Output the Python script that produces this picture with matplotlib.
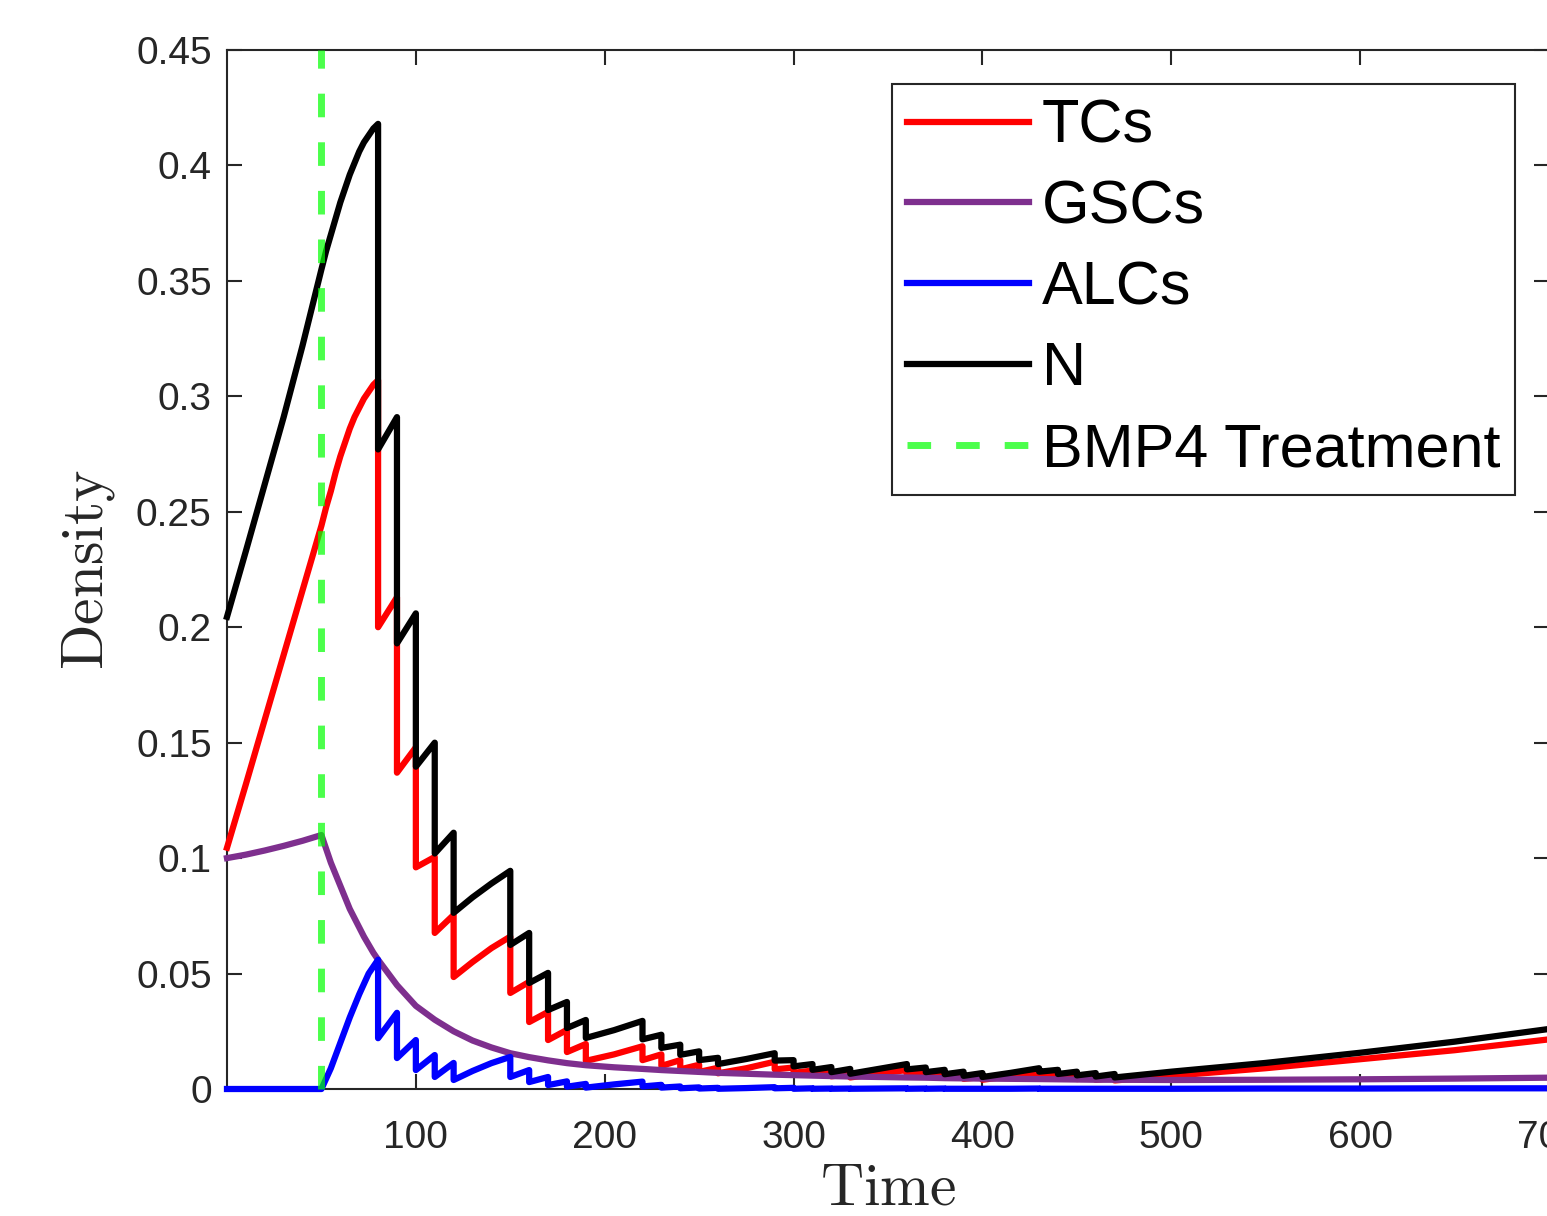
import matplotlib
matplotlib.use("Agg")
import matplotlib.pyplot as plt

plt.rcParams['font.family'] = ['Liberation Sans', 'DejaVu Sans']
plt.rcParams['mathtext.fontset'] = 'cm'

# time points, each dose time appears twice (value before / after the dose)
time = [0, 10, 20, 30, 40, 50, 52.5, 55, 57.5, 60, 62.5, 65, 67.5, 70, 72.5, 75, 77.5, 80,
        80, 90, 90, 100, 100, 110, 110, 120, 120,
        130, 140, 150, 150, 160, 160, 170, 170, 180, 180, 190, 190,
        205, 220, 220, 230, 230, 240, 240, 250, 250, 260, 260,
        275, 290, 290, 300, 300, 310, 310, 320, 320, 330, 330,
        345, 360, 360, 370, 370, 380, 380, 390, 390, 400, 400,
        415, 430, 430, 440, 440, 450, 450, 460, 460, 470, 470,
        500, 550, 600, 650, 700]

tcs = [0.1045, 0.132, 0.160, 0.188, 0.216, 0.244, 0.252, 0.259, 0.267, 0.274, 0.280, 0.286,
       0.291, 0.295, 0.299, 0.302, 0.305, 0.307,
       0.200, 0.213, 0.137, 0.148, 0.096, 0.1005, 0.0676, 0.0754, 0.0485,
       0.055, 0.061, 0.066, 0.0416, 0.0464, 0.029, 0.0334, 0.0212, 0.0256, 0.016, 0.0195, 0.0122,
       0.0150, 0.0185, 0.0125, 0.0150, 0.0100, 0.0125, 0.0085, 0.0105, 0.0074, 0.0092, 0.0068,
       0.0090, 0.0118, 0.0085, 0.0093, 0.0070, 0.0080, 0.0061, 0.0071, 0.0055, 0.0065, 0.0050,
       0.0067, 0.0082, 0.0062, 0.0070, 0.0054, 0.0062, 0.0048, 0.0056, 0.0044, 0.0052, 0.0040,
       0.0056, 0.0070, 0.0052, 0.0062, 0.0047, 0.0056, 0.0043, 0.0052, 0.0040, 0.0049, 0.0037,
       0.0057, 0.0090, 0.0129, 0.0168, 0.0215]

gscs = [0.100, 0.1015, 0.1033, 0.1053, 0.1075, 0.110, 0.104, 0.098, 0.093, 0.088, 0.083, 0.078,
        0.074, 0.070, 0.066, 0.0625, 0.059, 0.056,
        0.056, 0.045, 0.045, 0.036, 0.036, 0.030, 0.030, 0.025, 0.025,
        0.021, 0.018, 0.0155, 0.0155, 0.0138, 0.0138, 0.0124, 0.0124, 0.0112, 0.0112, 0.0103, 0.0103,
        0.0094, 0.0087, 0.0087, 0.0082, 0.0082, 0.0078, 0.0078, 0.0074, 0.0074, 0.0070, 0.0070,
        0.0066, 0.0062, 0.0062, 0.0060, 0.0060, 0.0058, 0.0058, 0.0056, 0.0056, 0.0054, 0.0054,
        0.0052, 0.0050, 0.0050, 0.0049, 0.0049, 0.0047, 0.0047, 0.0046, 0.0046, 0.0045, 0.0045,
        0.0044, 0.0043, 0.0043, 0.0042, 0.0042, 0.0041, 0.0041, 0.0040, 0.0040, 0.0040, 0.0040,
        0.0039, 0.0040, 0.0042, 0.0045, 0.0049]

alcs = [0, 0, 0, 0, 0, 0, 0.0045, 0.009, 0.0145, 0.020, 0.0255, 0.031,
        0.036, 0.041, 0.0455, 0.050, 0.053, 0.056,
        0.022, 0.033, 0.0134, 0.0212, 0.0082, 0.0147, 0.0052, 0.0113, 0.0039,
        0.0078, 0.0112, 0.0139, 0.0052, 0.0082, 0.0030, 0.0052, 0.0017, 0.0033, 0.0010, 0.0022, 0.0006,
        0.0020, 0.0032, 0.0011, 0.0018, 0.0006, 0.0011, 0.0003, 0.0007, 0.0002, 0.0005, 0.0001,
        0.0004, 0.0008, 0.0003, 0.0005, 0.0001, 0.0003, 0.0001, 0.0002, 0.0001, 0.0002, 0.0001,
        0.0002, 0.0003, 0.0001, 0.0002, 0.0001, 0.0002, 0.0001, 0.0001, 0.0001, 0.0001, 0.0001,
        0.0001, 0.0002, 0.0001, 0.0001, 0.0001, 0.0001, 0.0001, 0.0001, 0.0001, 0.0001, 0.0001,
        0.0001, 0.0002, 0.0002, 0.0003, 0.0003]

n_total = [0.2045, 0.233, 0.262, 0.291, 0.322, 0.355, 0.363, 0.370, 0.377, 0.384, 0.390, 0.396,
           0.401, 0.406, 0.410, 0.413, 0.416, 0.418,
           0.277, 0.291, 0.193, 0.206, 0.1396, 0.150, 0.102, 0.111, 0.0763,
           0.083, 0.089, 0.0945, 0.0624, 0.0676, 0.0459, 0.0503, 0.0342, 0.0377, 0.0264, 0.0299, 0.0221,
           0.0255, 0.0295, 0.0215, 0.0235, 0.0178, 0.0192, 0.0148, 0.0163, 0.0125, 0.0135, 0.0108,
           0.0130, 0.0155, 0.0123, 0.0125, 0.0098, 0.0108, 0.0083, 0.0095, 0.0073, 0.0087, 0.0066,
           0.0087, 0.0108, 0.0085, 0.0093, 0.0073, 0.0083, 0.0064, 0.0075, 0.0057, 0.0069, 0.0052,
           0.0070, 0.0090, 0.0075, 0.0083, 0.0065, 0.0075, 0.0059, 0.0069, 0.0054, 0.0065, 0.0050,
           0.0075, 0.0113, 0.0157, 0.0205, 0.0260]

treatment_time = 50
xticks = [100, 200, 300, 400, 500, 600, 700]
yticks = [0, 0.05, 0.1, 0.15, 0.2, 0.25, 0.3, 0.35, 0.4, 0.45]
ytick_labels = ['0', '0.05', '0.1', '0.15', '0.2', '0.25', '0.3', '0.35', '0.4', '0.45']

fig = plt.figure(figsize=(15.47, 12.16), dpi=100)
ax = fig.add_axes([227 / 1547, 1 - 1089 / 1216, 1322 / 1547, 1039 / 1216])

lw = 4.5
ax.plot(time, tcs, color='red', lw=lw, label='TCs', clip_on=False, zorder=3)
ax.plot(time, gscs, color='#7E2F8E', lw=lw, label='GSCs', clip_on=False, zorder=3)
ax.plot(time, alcs, color='blue', lw=lw, label='ALCs', clip_on=False, zorder=3)
ax.plot(time, n_total, color='black', lw=lw, label='N', clip_on=False, zorder=3)
ax.plot([treatment_time, treatment_time], [0, 0.45], color=(0, 1, 0), alpha=0.7,
        lw=5, ls=(0, (3.4, 3.6)), label='BMP4 Treatment', clip_on=False, zorder=3)

ax.set_xlim(0, 700)
ax.set_ylim(0, 0.45)
ax.set_xticks(xticks)
ax.set_yticks(yticks)
ax.set_yticklabels(ytick_labels)

for s in ax.spines.values():
    s.set_linewidth(1.5)
    s.set_color('#262626')
ax.tick_params(direction='in', length=11, width=1.5, colors='#262626',
               labelsize=28, top=True, right=True)
ax.tick_params(axis='x', pad=22)
ax.tick_params(axis='y', pad=11)

ax.set_xlabel(r'$\mathrm{Time}$', fontsize=43, color='#262626', labelpad=4)
ax.set_ylabel(r'$\mathrm{Density}$', fontsize=43, color='#262626', labelpad=14)

leg = ax.legend(loc='upper right', fontsize=44, frameon=True, fancybox=False,
                framealpha=1, edgecolor='#262626', borderaxespad=0.55,
                borderpad=0.25, labelspacing=0.39, handlelength=2.0, handletextpad=0.2)
leg.get_frame().set_linewidth(1.5)

fig.savefig('out.png', dpi=100)
